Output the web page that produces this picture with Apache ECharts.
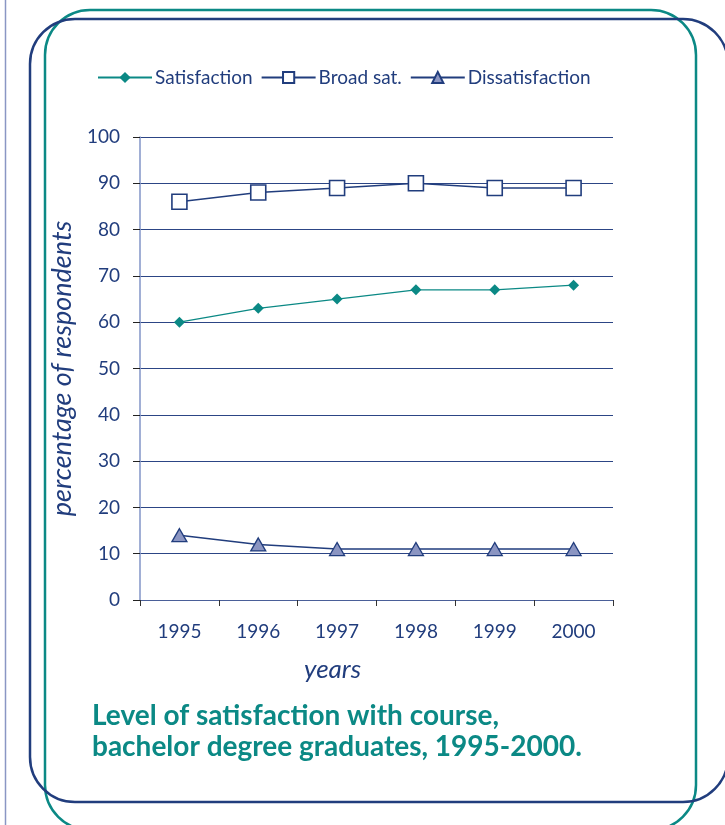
<!DOCTYPE html>
<html>
<head>
<meta charset="utf-8">
<script src="https://cdn.jsdelivr.net/npm/echarts@6/dist/echarts.min.js"></script>
<style>
  html, body { margin: 0; padding: 0; background: #ffffff; }
  #chart { width: 725px; height: 825px; }
</style>
</head>
<body>
<div id="chart"></div>
<script>
// Survey years and results (percentage of respondents)
const years = ['1995', '1996', '1997', '1998', '1999', '2000'];
const satisfaction = [60, 63, 65, 67, 67, 68];
const broadSat = [86, 88, 89, 90, 89, 89];
const dissatisfaction = [14, 12, 11, 11, 11, 11];
const seriesNames = ['Satisfaction', 'Broad sat.', 'Dissatisfaction'];
const titleLines = ['Level of satisfaction with course,', 'bachelor degree graduates, 1995-2000.'];

const NAVY = '#213d7d';
const TEAL = '#0b8985';
const FONT = 'Lato, "Open Sans", sans-serif';

const chart = echarts.init(document.getElementById('chart'), null, { renderer: 'canvas' });

chart.setOption({
  backgroundColor: '#ffffff',
  animation: false,
  textStyle: { fontFamily: FONT },
  legend: {
    left: 92,
    top: 63,
    itemWidth: 54,
    itemHeight: 14,
    itemGap: 8,
    textStyle: { color: NAVY, fontSize: 19, fontFamily: FONT, padding: [0, 0, 0, -2] },
    data: seriesNames
  },
  grid: { left: 140, right: 112, top: 137, bottom: 225 },
  xAxis: {
    type: 'category',
    data: years,
    boundaryGap: true,
    axisLine: { lineStyle: { color: '#4a5f98', width: 1.2 } },
    axisTick: { show: true, length: 6, lineStyle: { color: '#333333' } },
    axisLabel: { color: NAVY, fontSize: 19, margin: 22, fontFamily: FONT }
  },
  yAxis: {
    type: 'value',
    min: 0,
    max: 100,
    interval: 10,
    name: 'percentage of respondents',
    nameLocation: 'middle',
    nameGap: 58,
    nameTextStyle: { color: NAVY, fontSize: 27, fontStyle: 'italic', fontFamily: FONT },
    axisLine: { show: true, lineStyle: { color: '#8a9bcb', width: 1.6 } },
    axisTick: { show: true, length: 7, lineStyle: { color: '#222222' } },
    axisLabel: { color: NAVY, fontSize: 19, margin: 20, fontFamily: FONT },
    splitLine: { lineStyle: { color: '#2c4585', width: 1 } }
  },
  series: [
    {
      name: seriesNames[0],
      type: 'line',
      data: satisfaction,
      symbol: 'diamond',
      symbolSize: 11,
      lineStyle: { color: TEAL, width: 1.3 },
      itemStyle: { color: TEAL, borderColor: TEAL, borderWidth: 0 },
      z: 3
    },
    {
      name: seriesNames[1],
      type: 'line',
      data: broadSat,
      symbol: 'rect',
      symbolSize: 15,
      lineStyle: { color: NAVY, width: 1.5 },
      itemStyle: { color: '#ffffff', borderColor: NAVY, borderWidth: 1.6 },
      z: 3
    },
    {
      name: seriesNames[2],
      type: 'line',
      data: dissatisfaction,
      symbol: 'triangle',
      symbolSize: [15, 13],
      lineStyle: { color: NAVY, width: 1.5 },
      itemStyle: { color: '#8b95c2', borderColor: NAVY, borderWidth: 1.3 },
      z: 3
    }
  ],
  graphic: [
    // thin page rule on the left
    { type: 'line', z: 0, shape: { x1: 5.5, y1: 0, x2: 5.5, y2: 825 }, style: { stroke: '#8a96c4', lineWidth: 1.5 } },
    // two overlapping rounded frames
    { type: 'rect', z: 1, shape: { x: 45, y: 10, width: 651, height: 820, r: 45 }, style: { fill: 'none', stroke: TEAL, lineWidth: 2.5 } },
    { type: 'rect', z: 1, shape: { x: 30, y: 19, width: 698, height: 783, r: 45 }, style: { fill: 'none', stroke: NAVY, lineWidth: 2.5 } },
    // x-axis title
    { type: 'text', left: 304, top: 657, style: { text: 'years', fill: NAVY, fontSize: 26, fontStyle: 'italic', fontFamily: FONT } },
    // caption
    { type: 'text', left: 92, top: 700, style: { text: titleLines.join('\n'), fill: TEAL, fontSize: 28, fontWeight: 'bold', lineHeight: 31, fontFamily: FONT } }
  ]
});
</script>
</body>
</html>
